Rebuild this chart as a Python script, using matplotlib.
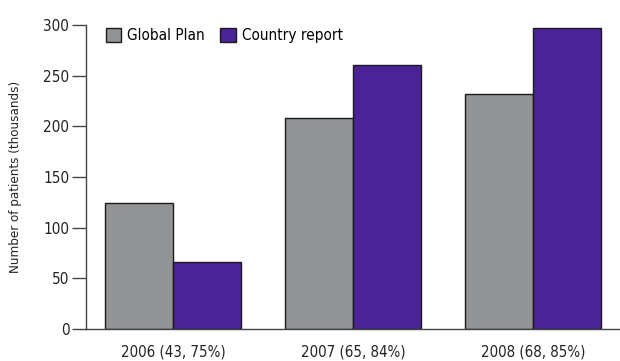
import matplotlib
matplotlib.use("Agg")
import matplotlib.pyplot as plt
import numpy as np

# Patients on treatment (thousands): Global Plan targets vs country reports
years = ["2006 (43, 75%)", "2007 (65, 84%)", "2008 (68, 85%)"]
global_plan = [124, 208, 232]
country_report = [66, 261, 297]
y_ticks = [0, 50, 100, 150, 200, 250, 300]

plt.rcParams['font.family'] = ['DejaVu Sans']
plt.rcParams['font.stretch'] = 'condensed'

fig = plt.figure(figsize=(6.2, 3.61), dpi=100)
ax = fig.add_axes([0.1387, 0.0886, 0.8613, 0.8421])

x = np.arange(len(years))
width = 0.38
ax.bar(x - width / 2, global_plan, width, color='#929395', edgecolor='#1a1a1a',
       linewidth=1.0, label='Global Plan')
ax.bar(x + width / 2, country_report, width, color='#4a2396', edgecolor='#1a1a1a',
       linewidth=1.0, label='Country report')

ax.set_xlim(-0.483, 2.483)
ax.set_ylim(0, 300)
ax.set_yticks(y_ticks)
ax.set_xticks(x)
ax.set_xticklabels(years)

for side in ['top', 'right']:
    ax.spines[side].set_visible(False)
for side in ['left', 'bottom']:
    ax.spines[side].set_color('#444444')
    ax.spines[side].set_linewidth(1.0)

ax.tick_params(axis='y', length=10, width=1.0, color='#444444',
               labelsize=11, labelcolor='#222222', pad=2)
ax.tick_params(axis='x', length=0, labelsize=10.8, labelcolor='#222222', pad=11)

ax.set_ylabel('Number of patients (thousands)', fontsize=9.5, color='#222222',
              labelpad=15)

ax.legend(loc='upper left', bbox_to_anchor=(0.02, 1.02), ncol=2, frameon=False,
          fontsize=11, handlelength=1.0, handleheight=1.0, handletextpad=0.4,
          columnspacing=1.0, borderaxespad=0.2)

fig.savefig('out.png', dpi=100)
